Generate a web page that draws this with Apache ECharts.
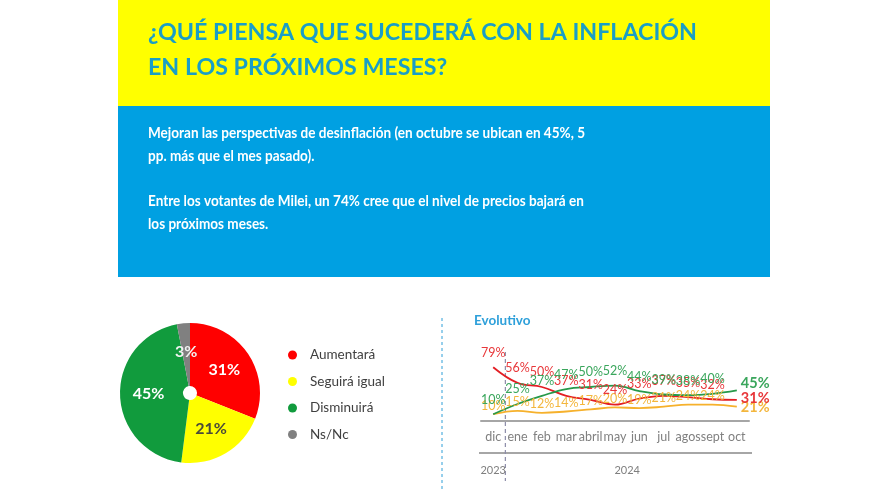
<!DOCTYPE html>
<html><head><meta charset="utf-8">
<script src="https://cdn.jsdelivr.net/npm/echarts@6/dist/echarts.min.js"></script>
<style>html,body{margin:0;padding:0;background:#fff;}#c{width:888px;height:500px;}</style>
</head><body><div id="c"></div>
<script>
const categories = ['dic','ene','feb','mar','abril','may','jun','jul','agos','sept','oct'];
const aumentara = [79,56,50,37,31,24,33,37,35,32,31];
const seguiraIgual = [10,15,12,14,17,20,19,21,24,24,21];
const disminuira = [10,25,37,47,50,52,44,39,38,40,45];
const pieNames = ['Aumentará','Seguirá igual','Disminuirá','Ns/Nc'];
const pieValues = [31,21,45,3];
const yearLabels = ['2023','2024'];
const titleLines = ['¿QUÉ PIENSA QUE SUCEDERÁ CON LA INFLACIÓN','EN LOS PRÓXIMOS MESES?'];
const bodyLines = ['Mejoran las perspectivas de desinflación (en octubre se ubican en 45%, 5','pp. más que el mes pasado).','Entre los votantes de Milei, un 74% cree que el nivel de precios bajará en','los próximos meses.'];

const pieColors = ['#ff0000','#ffff00','#119b3d','#808080'];
const pieLabelColors = ['#ffffff','#4a4a3a','#ffffff','#f2f2f2'];
const lineColors = {red:'#e31e24', yellow:'#f6b12c', green:'#27994a'};
const labelColors = {red:'#e8373a', yellow:'#f3b63d', green:'#3aa65c'};

const mctx = document.createElement('canvas').getContext('2d');
function measure(text, font){ mctx.font = font; return mctx.measureText(text).width; }
const titleFont = 'bold 22px Lato';
const titleScale = 549 / measure(titleLines[0], titleFont);
const bodyFont = 'bold 16px Lato';
const bodyScale = 437 / measure(bodyLines[0], bodyFont);

const chart = echarts.init(document.getElementById('c'), null, {renderer:'canvas'});

function lineSeries(id, values, color, lcolor, lastOffset, dist){
  return {
    id, name:id, type:'line', data: values.map((v,i)=>{
      if(i===values.length-1){
        return {value:v, label:{position:'right', distance:4, offset:lastOffset, fontSize:14.5, fontWeight:'bold'}};
      }
      return v;
    }),
    smooth:0.4, symbol:'circle', symbolSize:0.1, showSymbol:true,
    lineStyle:{color, width:1.8}, itemStyle:{color},
    label:{show:true, position:'top', distance:dist, formatter:'{c}%', color:lcolor, fontSize:12.5, fontFamily:'Lato'},
    z: 3
  };
}

const staticGraphic = [
  {id:'yel', type:'rect', shape:{x:118,y:0,width:652,height:106}, style:{fill:'#ffff00'}, silent:true},
  {id:'blu', type:'rect', shape:{x:118,y:106,width:652,height:171}, style:{fill:'#00a0e2'}, silent:true},
  {id:'t1', type:'text', x:148, y:33, scaleX:titleScale, style:{text:titleLines[0], font:titleFont, fill:'#1a9ec6', verticalAlign:'middle'}},
  {id:'t2', type:'text', x:148, y:68, scaleX:titleScale, style:{text:titleLines[1], font:titleFont, fill:'#1a9ec6', verticalAlign:'middle'}},
  {id:'b1', type:'text', x:148, y:133, scaleX:bodyScale, style:{text:bodyLines[0], font:bodyFont, fill:'#ffffff', verticalAlign:'middle'}},
  {id:'b2', type:'text', x:148, y:156, scaleX:bodyScale, style:{text:bodyLines[1], font:bodyFont, fill:'#ffffff', verticalAlign:'middle'}},
  {id:'b3', type:'text', x:148, y:201, scaleX:bodyScale, style:{text:bodyLines[2], font:bodyFont, fill:'#ffffff', verticalAlign:'middle'}},
  {id:'b4', type:'text', x:148, y:224, scaleX:bodyScale, style:{text:bodyLines[3], font:bodyFont, fill:'#ffffff', verticalAlign:'middle'}},
  {id:'div', type:'line', shape:{x1:442,y1:318,x2:442,y2:490}, style:{stroke:'#2f9fd8', lineWidth:1, lineDash:[3,3]}},
  {id:'evo', type:'text', x:474, y:321, style:{text:'Evolutivo', font:'bold 13.5px Lato', fill:'#2ea0da', verticalAlign:'middle'}}
];

const option = {
  animation:false,
  backgroundColor:'#ffffff',
  textStyle:{fontFamily:'Lato'},
  legend:{
    orient:'vertical', left:283, top:343, itemGap:12.5, itemWidth:9, itemHeight:9, icon:'circle',
    data:pieNames, selectedMode:false,
    textStyle:{fontSize:13.5, color:'#404040', fontFamily:'Lato', padding:[0,0,0,8]}
  },
  grid:{left:481, right:139, top:353, bottom:79},
  xAxis:{type:'category', data:categories, boundaryGap:true,
    axisLine:{lineStyle:{color:'#a6a6a6', width:2}}, axisTick:{show:false},
    axisLabel:{color:'#808080', fontSize:12.5, margin:9, interval:0}},
  yAxis:{type:'value', min:0, max:100, show:false},
  series:[
    {type:'pie', center:[190,393], radius:[7,70], startAngle:90, clockwise:true,
     data: pieNames.map((n,i)=>({name:n, value:pieValues[i], itemStyle:{color:pieColors[i]}, label:{color:pieLabelColors[i]}})),
     label:{show:true, position:'inside', formatter:'{c}%', fontSize:16, fontWeight:'bold', fontFamily:'Lato'},
     labelLine:{show:false}, silent:true},
    lineSeries('lineSeguira', seguiraIgual, lineColors.yellow, labelColors.yellow, [0,1], 2),
    lineSeries('lineAumentara', aumentara, lineColors.red, labelColors.red, [0,-2], 8),
    lineSeries('lineDisminuira', disminuira, lineColors.green, labelColors.green, [0,-7], 8)
  ],
  graphic: staticGraphic
};
chart.setOption(option);

// decorations positioned from the axis scale
const xs = categories.map((c,i)=>chart.convertToPixel({xAxisIndex:0}, i));
const step = xs[1]-xs[0];
const y0 = chart.convertToPixel({yAxisIndex:0}, 0);
const sepX = (xs[0]+xs[1])/2;
const mid2024 = (xs[1]+xs[xs.length-1])/2;
const dyn = [
  {id:'hl2', type:'line', shape:{x1:xs[0]-step/2-2, y1:y0+32, x2:xs[xs.length-1]+step/2+3, y2:y0+32}, style:{stroke:'#a6a6a6', lineWidth:2}},
  {id:'vsep', type:'line', shape:{x1:sepX, y1:y0-69, x2:sepX, y2:y0+60}, style:{stroke:'#8c8ca8', lineWidth:1.2, lineDash:[4,3]}},
  {id:'y1', type:'text', x:xs[0], y:y0+49, style:{text:yearLabels[0], font:'11px Lato', fill:'#7f7f7f', align:'center', verticalAlign:'middle'}},
  {id:'y2', type:'text', x:mid2024, y:y0+49, style:{text:yearLabels[1], font:'11px Lato', fill:'#7f7f7f', align:'center', verticalAlign:'middle'}}
];
chart.setOption({graphic: staticGraphic.concat(dyn)});
</script></body></html>
